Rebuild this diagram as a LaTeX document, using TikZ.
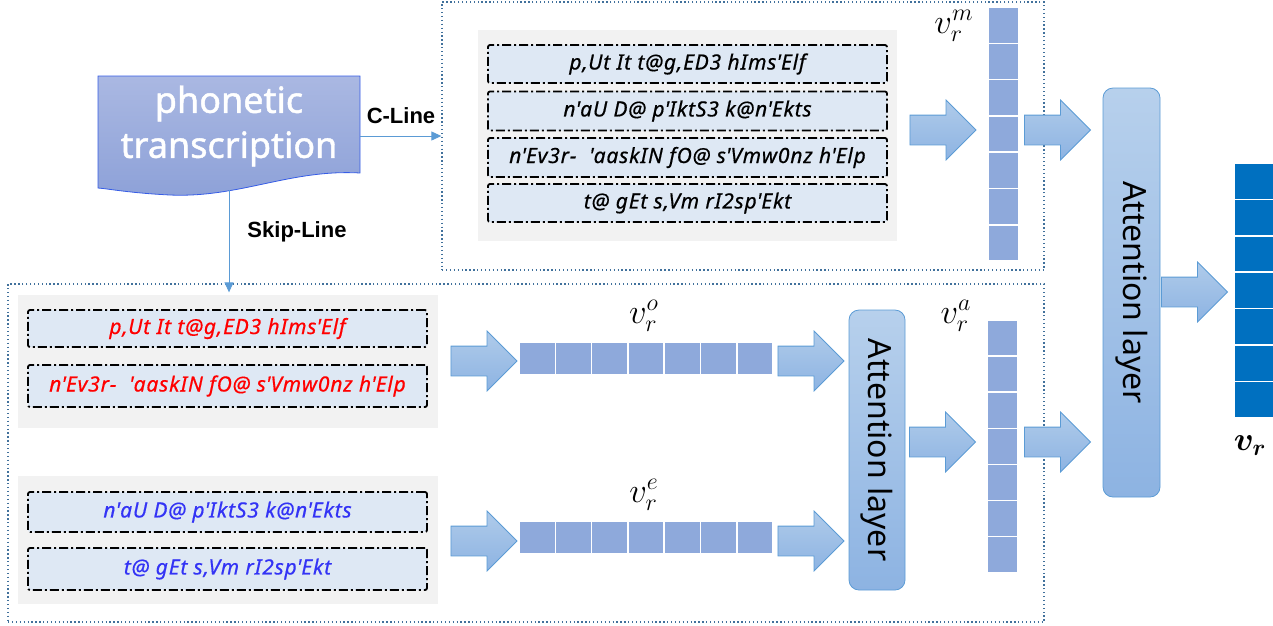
\documentclass[tikz,border=0pt]{standalone}
\usepackage{amsmath}
\usepackage{fontspec}
\setmainfont{Noto Sans}
\newfontfamily\lblfont{Liberation Sans}
\newfontfamily\phonfont{Noto Sans}[FakeBold=0.5, LetterSpace=4]
\newfontfamily\titlefont{Noto Sans}[FakeBold=1.2]
\newcommand\qs{\textquotesingle}
\usetikzlibrary{shapes.arrows,arrows.meta}
\definecolor{dotblue}{HTML}{41719C}
\definecolor{panelgray}{HTML}{F2F2F2}
\definecolor{boxblue}{HTML}{DEE8F4}
\definecolor{cellblue}{HTML}{8EA9DB}
\definecolor{darkcell}{HTML}{0070C0}
\definecolor{arrtop}{HTML}{AFCBEA}
\definecolor{arrbot}{HTML}{8DB3E2}
\definecolor{arrline}{HTML}{5B9BD5}
\definecolor{doctop}{HTML}{AAB8E2}
\definecolor{docbot}{HTML}{8DA1D8}
\definecolor{redtxt}{HTML}{FF0000}
\definecolor{bluetxt}{HTML}{3333F5}
\begin{document}
\begin{tikzpicture}[x=1pt,y=-1pt,
  dotbox/.style={draw=dotblue, line width=1.3pt, dash pattern=on 1.3pt off 2.6pt},
  panel/.style={fill=panelgray, draw=none, inner sep=0},
  phon/.style={draw=black, line width=1.8pt, dash pattern=on 9pt off 3pt on 2pt off 3pt,
     fill=boxblue, rounded corners=2pt, minimum width=399, inner sep=0,
     font=\phonfont\fontsize{21}{23}\selectfont\itshape},
  blockarrow/.style={single arrow, draw=arrline, line width=0.8pt, top color=arrtop, bottom color=arrbot,
     inner xsep=0pt, inner ysep=14.5pt, minimum height=66, single arrow head extend=15pt,
     single arrow tip angle=90},
  cell/.style={fill=cellblue, draw=white, line width=1.5pt, inner sep=0},
  dcell/.style={fill=darkcell, draw=white, line width=1.5pt, inner sep=0},
  attn/.style={draw=arrline, line width=0.8pt, top color=arrtop!90!white, bottom color=arrbot, rounded corners=10pt, inner sep=0},
  attntext/.style={rotate=-90, font=\fontsize{32}{34}\selectfont},
  conn/.style={draw=arrline, line width=1pt, -{Triangle[length=10pt,width=9pt]}},
  lbl/.style={font=\lblfont\fontsize{22}{24}\selectfont\bfseries},
  vlab/.style={inner sep=0pt}
]
\useasboundingbox (0,0) rectangle (1273,625);

% dotted group boxes
\node[dotbox, minimum width=602, minimum height=268, inner sep=0] (topbox) at (743,136) {};
\node[dotbox, minimum width=1036, minimum height=338, inner sep=0] (botbox) at (526,453) {};

% phonetic transcription document shape
\shade[top color=doctop, bottom color=docbot, draw=arrline!60!blue, line width=0.8pt]
  (98,76) -- (360,76) -- (360,173) .. controls (290,169) and (240,198) .. (170,195)
  .. controls (130,193) and (110,189) .. (98,188) -- cycle;
\node[minimum width=262, minimum height=114, inner sep=0] (pt) at (229,133) {};
\node[text=white, align=center, font=\titlefont\fontsize{36}{45}\selectfont] (pttext) at (229,126) {phonetic\\transcription};

% connectors
\draw[conn] ([yshift=-3pt]pt.east) -- ([yshift=-3pt]pt.east -| topbox.west);
\node[lbl] (cline) at (401,116) {C-Line};
\draw[conn] (pt.south) -- ([yshift=-9pt]pt.south |- botbox.north);
\node[lbl] (sline) at (297,232) {Skip-Line};

% top panel
\node[panel, minimum width=419, minimum height=211] (tpanel) at (687.5,135.5) {};
\node[phon, minimum height=38] (t1) at (687.5,64) {p,Ut It t@g,ED3 hIms\qs Elf};
\node[phon, minimum height=39] (t2) at (687.5,111) {n\qs aU D@ p\qs IktS3 k@n\qs Ekts};
\node[phon, minimum height=39] (t3) at (687.5,157.5) {n\qs Ev3r- \ \qs aaskIN fO@ s\qs Vmw0nz h\qs Elp};
\node[phon, minimum height=38] (t4) at (687.5,203) {t@ gEt s,Vm rI2sp\qs Ekt};

% bottom panels
\node[panel, minimum width=420, minimum height=133] (bpanel1) at (228,361.5) {};
\node[phon, minimum height=37, text=redtxt] (b1) at (227.5,328.5) {p,Ut It t@g,ED3 hIms\qs Elf};
\node[phon, minimum height=42, text=redtxt] (b2) at (227.5,386) {n\qs Ev3r- \ \qs aaskIN fO@ s\qs Vmw0nz h\qs Elp};
\node[panel, minimum width=420, minimum height=128] (bpanel2) at (228,540) {};
\node[phon, minimum height=40, text=bluetxt] (b3) at (227.5,512) {n\qs aU D@ p\qs IktS3 k@n\qs Ekts};
\node[phon, minimum height=42, text=bluetxt] (b4) at (227.5,569) {t@ gEt s,Vm rI2sp\qs Ekt};

% block arrows
\node[blockarrow] (a1) at (935.5,130) {};
\node[blockarrow] (a2) at (1050,130) {};
\node[blockarrow] (a3) at (1187,292) {};
\node[blockarrow] (o1) at (476.5,361) {};
\node[blockarrow] (o2) at (803.5,361) {};
\node[blockarrow] (e1) at (476.5,541) {};
\node[blockarrow] (e2) at (803.5,541) {};
\node[blockarrow] (c1) at (935,442) {};
\node[blockarrow] (c2) at (1050,442) {};

% vectors
\foreach \i in {0,...,6} {
  \node[cell, minimum width=31, minimum height=36.3] (m\i) at (1003.5, 7+36.3*\i+18.15) {};
  \node[cell, minimum width=31, minimum height=36.1] (va\i) at (1002.5, 320+36.1*\i+18.05) {};
  \node[cell, minimum width=36.3, minimum height=33] (vo\i) at (519+36.3*\i+18.15, 358.5) {};
  \node[cell, minimum width=36.3, minimum height=32] (ve\i) at (519+36.3*\i+18.15, 537.5) {};
  \node[dcell, minimum width=40, minimum height=36.4] (vr\i) at (1254, 163+36.4*\i+18.2) {};
}
\node[vlab] (lm) at (954,26) {\scalebox{2}{\fontsize{17}{19}\selectfont$v_r^m$}};
\node[vlab] (la) at (956,316) {\scalebox{2}{\fontsize{17}{19}\selectfont$v_r^a$}};
\node[vlab] (lo) at (644,316) {\scalebox{2}{\fontsize{17}{19}\selectfont$v_r^o$}};
\node[vlab] (le) at (644,495) {\scalebox{2}{\fontsize{17}{19}\selectfont$v_r^e$}};
\node[vlab] (lr) at (1250,446) {\scalebox{1.6}{\fontsize{20}{22}\selectfont$\boldsymbol{v_r}$}};

% attention layers
\node[attn, minimum width=56, minimum height=280] (att1) at (877,450) {};
\node[attntext] (att1t) at (877,450) {Attention layer};
\node[attn, minimum width=57, minimum height=409] (att2) at (1131.5,292.5) {};
\node[attntext] (att2t) at (1131.5,292.5) {Attention layer};
\end{tikzpicture}
\end{document}
